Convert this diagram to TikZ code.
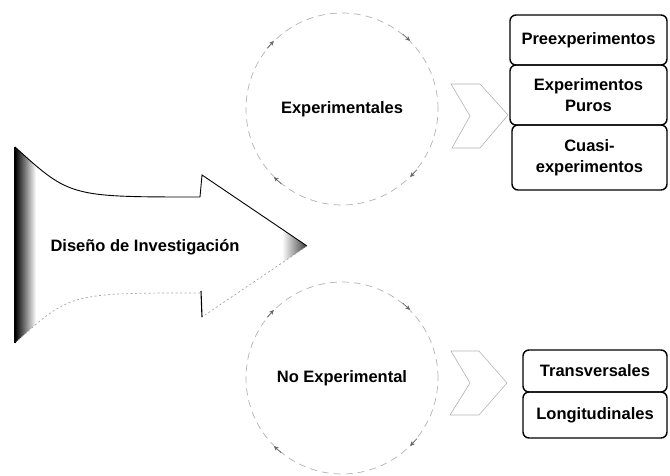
\documentclass[tikz,border=0pt]{standalone}
\usepackage{fontspec}
\setmainfont{Liberation Sans}
\usetikzlibrary{arrows.meta}
\begin{document}
% outline of the large notched arrow on the left
\def\bigarrowpath{(15,147) .. controls (70,197) .. (200,197) -- (202,175) -- (307,246)
  -- (202,317) -- (200,293) .. controls (70,293) .. (15,343) -- cycle}
\begin{tikzpicture}[x=1pt,y=-1pt,
  every node/.style={font=\bfseries\fontsize{16.5}{21}\selectfont, text=black},
  optbox/.style={draw=black, line width=1.4pt, rounded corners=6pt,
    minimum width=157pt, inner sep=2pt, align=center},
  ring/.style={circle, draw=gray!60, dash pattern=on 7pt off 5pt,
    line width=0.7pt, minimum size=192pt, inner sep=0pt},
  ringmark/.style={draw=black!60, line width=0.7pt,
    -{Stealth[length=5pt,width=4.5pt]}},
  chev/.style={draw=gray!60, line width=0.6pt},
  ]
\useasboundingbox (0,0) rectangle (670,476);

% big arrow: body with dark shading on the back edge and near the tip
\begin{scope}
  \clip \bigarrowpath;
  \fill[white] (0,140) rectangle (320,350);
  \shade[left color=black, right color=white] (15,140) rectangle (36,350);
  \shade[left color=white, right color=black!80] (282,140) rectangle (308,350);
\end{scope}
\draw[black, line width=0.9pt] (15,147) .. controls (70,197) .. (200,197)
  -- (202,175) -- (307,246);
\draw[gray!70, line width=0.7pt, dash pattern=on 2pt off 2.5pt]
  (307,246) -- (202,317);
\draw[black, line width=1.1pt] (202,317) -- (201,291);
\draw[gray!70, line width=0.7pt, dash pattern=on 2pt off 2.5pt]
  (200,293) .. controls (70,293) .. (15,343);
\draw[black, line width=2pt] (15,147) -- (15,343);
\node (diseno) at (145,247) {Diseño de Investigación};

% the two categories
\node[ring] (exp) at (342,109) {Experimentales};
\node[ring] (noexp) at (342,378) {No Experimental};
\foreach \a in {45,135,225,315}{
  \draw[ringmark] (exp.\a+6) -- (exp.\a);
  \draw[ringmark] (noexp.\a+6) -- (noexp.\a);
}

% chevrons leading to the sub-types
\draw[chev] (451,84) -- (480,84) -- (508,115) -- (480,148) -- (452,148)
  -- (470,116) -- cycle;
\draw[chev] (451,351) -- (479,351) -- (507,383) -- (479,415) -- (450,415)
  -- (470,383) -- cycle;

% sub-types of experimental designs
\node[optbox, minimum height=50pt] (pre) at (588.5,40) {Preexperimentos};
\node[optbox, minimum height=60pt] (puros) at (588.5,95) {Experimentos\\Puros};
\node[optbox, minimum width=155pt, minimum height=65pt] (cuasi) at (589.5,157.5)
  {Cuasi-\\experimentos};

% sub-types of non-experimental designs
\node[optbox, minimum width=144pt, minimum height=42pt] (trans) at (595,371)
  {Transversales};
\node[optbox, minimum width=144pt, minimum height=46pt] (longi) at (595,415)
  {Longitudinales};
\end{tikzpicture}
\end{document}
